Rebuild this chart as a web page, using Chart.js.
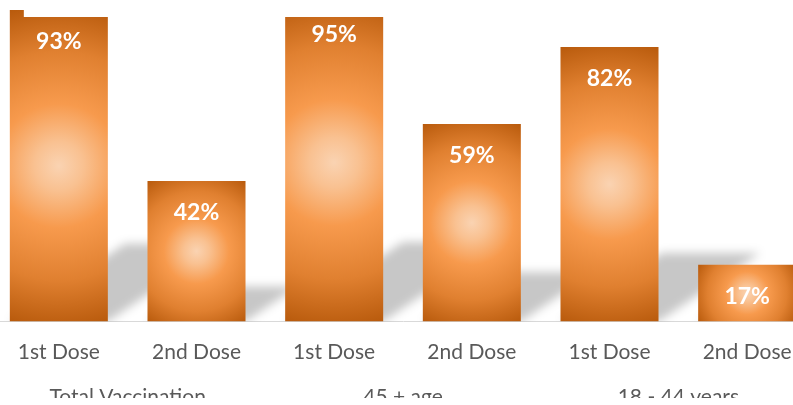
<!DOCTYPE html>
<html>
<head>
<meta charset="utf-8">
<script src="https://cdn.jsdelivr.net/npm/chart.js@4.4.1/dist/chart.umd.min.js"></script>
<style>
  html, body { margin:0; padding:0; background:#fff; width:793px; height:405px; overflow:hidden; }
  #wrap { position:absolute; left:-10px; top:0; width:826px; height:412px; }
</style>
</head>
<body>
<div id="wrap"><canvas id="c"></canvas></div>
<script>
const categories = ['1st Dose', '2nd Dose', '1st Dose', '2nd Dose', '1st Dose', '2nd Dose'];
const groups = ['Total Vaccination', '45 + age', '18 - 44 years'];
const values = [93, 42, 95, 59, 82, 17];
const yMax = 96;
const barPct = 0.712;

function barGradient(ctx) {
  const chart = ctx.chart;
  const xs = chart.scales && chart.scales.x, ys = chart.scales && chart.scales.y;
  if (!xs || !ys || ctx.type !== 'data' || !chart.chartArea) return '#F79646';
  const i = ctx.dataIndex;
  const cx = xs.getPixelForValue(i);
  const top = ys.getPixelForValue(values[i]);
  const base = ys.getPixelForValue(0);
  const hw = (xs.getPixelForValue(1) - xs.getPixelForValue(0)) * barPct / 2;
  const cy = (top + base) / 2;
  const r = Math.hypot(hw, (base - top) / 2);
  const g = chart.ctx.createRadialGradient(cx, cy, 0, cx, cy, r);
  g.addColorStop(0, '#FAD3B2');
  g.addColorStop(0.15, '#F9C191');
  g.addColorStop(0.38, '#F79A4D');
  g.addColorStop(0.7, '#E08030');
  g.addColorStop(1, '#B85A0C');
  return g;
}

const shadowPlugin = {
  id: 'shadow',
  beforeDatasetsDraw(chart) {
    const ctx = chart.ctx;
    const meta = chart.getDatasetMeta(0);
    const area = chart.chartArea;
    ctx.save();
    ctx.beginPath();
    ctx.rect(area.left, area.top, area.right - area.left, area.bottom - area.top);
    ctx.clip();
    ctx.filter = 'blur(5px)';
    ctx.fillStyle = 'rgba(0,0,0,0.22)';
    meta.data.forEach(el => {
      const p = el.getProps(['x', 'y', 'base', 'width'], true);
      const h = p.base - p.y;
      const x0 = p.x - p.width / 2, x1 = p.x + p.width / 2;
      const sh = h * 0.25, d = h * 0.37;
      ctx.beginPath();
      ctx.moveTo(x0, p.base);
      ctx.lineTo(x1, p.base);
      ctx.lineTo(x1 + d, p.base - sh);
      ctx.lineTo(x0 + d, p.base - sh);
      ctx.closePath();
      ctx.fill();
    });
    ctx.restore();
  },
  afterDatasetsDraw(chart) {
    const ctx = chart.ctx;
    const meta = chart.getDatasetMeta(0);
    const first = meta.data[0].getProps(['x', 'width'], true);
    ctx.save();
    ctx.fillStyle = '#ffffff';
    ctx.fillRect(first.x - first.width / 2 + 14, 0, chart.width, 17);
    ctx.fillStyle = '#ffffff';
    ctx.font = 'bold 23px Lato';
    ctx.textAlign = 'center';
    ctx.textBaseline = 'alphabetic';
    meta.data.forEach((el, i) => {
      const p = el.getProps(['x', 'y'], true);
      ctx.fillText(values[i] + '%', p.x, p.y + 39);
    });
    ctx.restore();
  },
  afterDraw(chart) {
    const ctx = chart.ctx;
    ctx.save();
    ctx.fillStyle = '#ffffff';
    ctx.fillRect(0, 398, chart.width, chart.height - 398);
    ctx.restore();
  }
};

function build() {
  new Chart(document.getElementById('c'), {
    type: 'bar',
    data: {
      labels: categories,
      datasets: [{
        data: values,
        backgroundColor: barGradient,
        borderWidth: 0,
        barPercentage: barPct,
        categoryPercentage: 1
      }]
    },
    options: {
      responsive: true,
      maintainAspectRatio: false,
      animation: false,
      layout: { padding: 0 },
      plugins: { legend: { display: false }, tooltip: { enabled: false } },
      scales: {
        y: { display: false, min: 0, max: yMax },
        x: {
          type: 'category',
          position: 'bottom',
          weight: 1,
          grid: { display: false, drawTicks: false },
          border: { display: true, color: '#D9D9D9', width: 1 },
          ticks: { color: '#595959', font: { family: 'Lato', size: 21, lineHeight: 1.2 }, padding: 18, autoSkip: false, maxRotation: 0 }
        },
        x2: {
          type: 'category',
          position: 'bottom',
          weight: 2,
          labels: groups,
          offset: true,
          grid: { display: false, drawTicks: false },
          border: { display: false },
          ticks: { color: '#595959', font: { family: 'Lato', size: 21, lineHeight: 1.2 }, padding: 2, autoSkip: false, maxRotation: 0 }
        }
      }
    },
    plugins: [shadowPlugin]
  });
}

Promise.all([
  document.fonts.load('21px Lato'),
  document.fonts.load('bold 23px Lato')
]).then(build, build);
</script>
</body>
</html>
